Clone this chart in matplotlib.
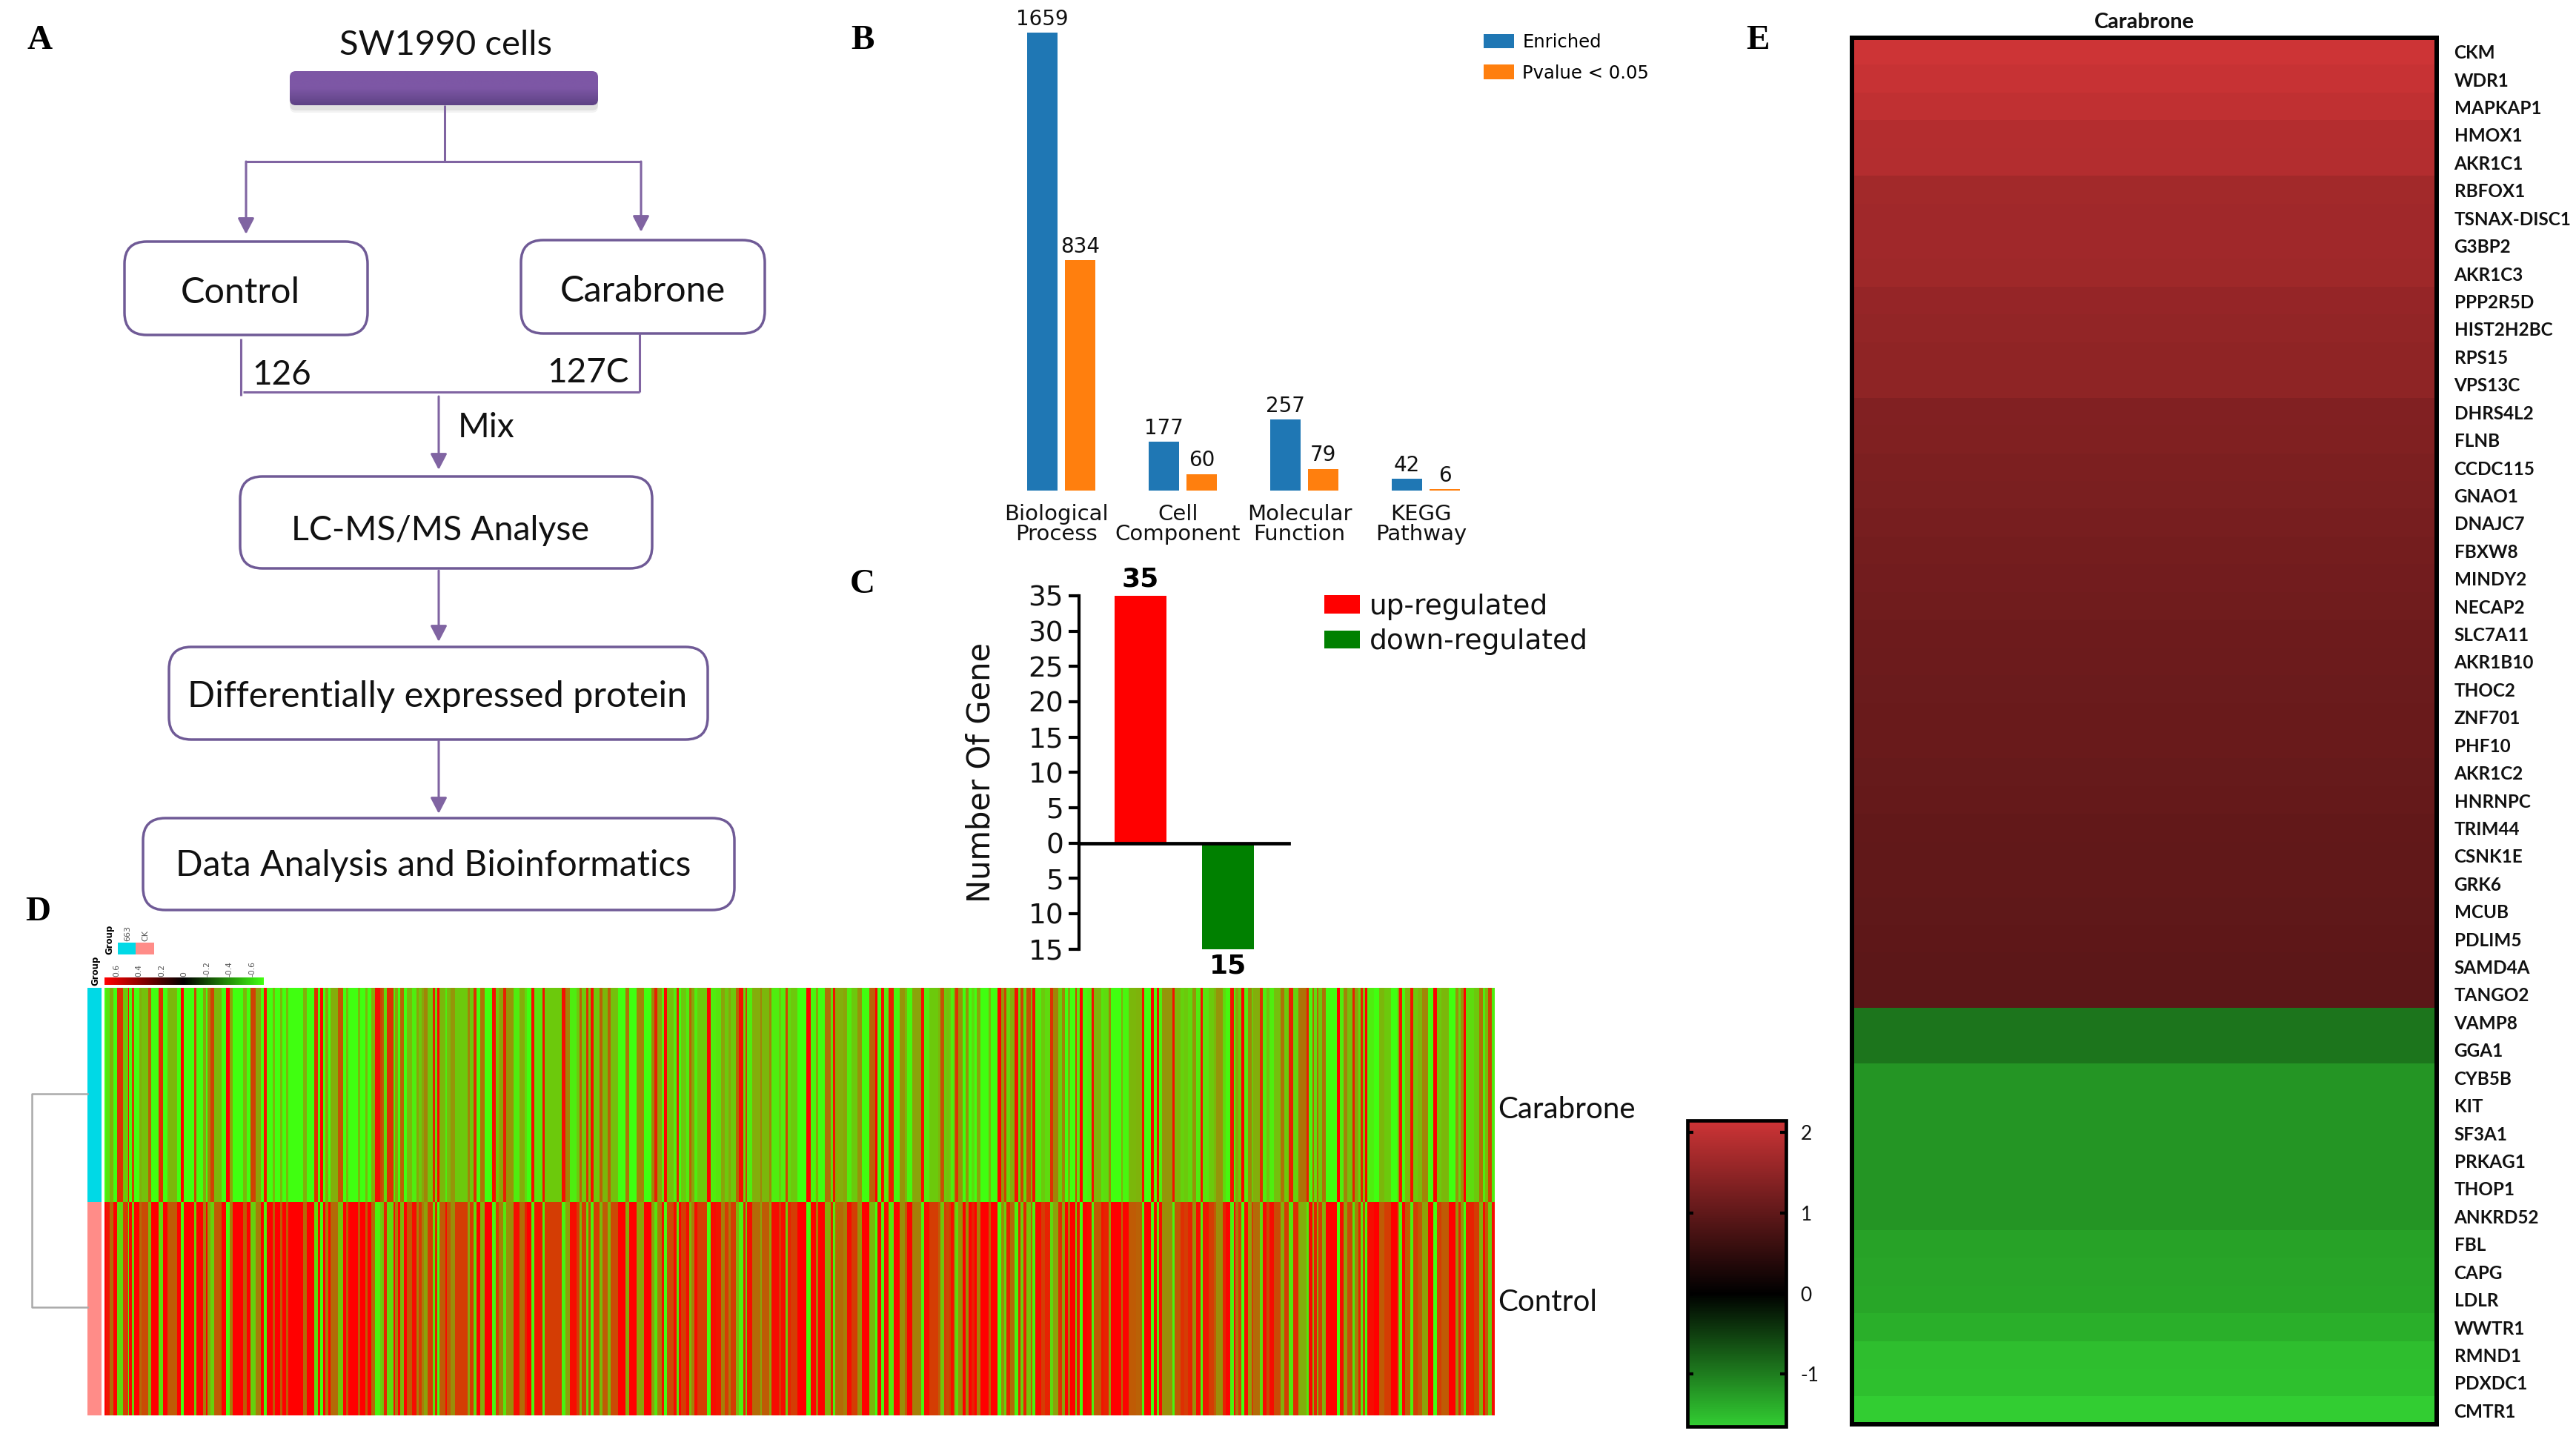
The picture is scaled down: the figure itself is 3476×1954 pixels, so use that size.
import numpy as np
from matplotlib import pyplot as plt
from matplotlib.cm import ScalarMappable
from matplotlib.colors import LinearSegmentedColormap, Normalize
from matplotlib.patches import FancyBboxPatch, Rectangle

plt.rcParams['axes.unicode_minus'] = False

W, H = 3476, 1954

# panel B
go_categories = ['Biological\nProcess', 'Cell\nComponent', 'Molecular\nFunction', 'KEGG\nPathway']
go_enriched = [1659, 177, 257, 42]
go_pvalue = [834, 60, 79, 6]

# panel C
reg_labels = ['up-regulated', 'down-regulated']
reg_values = [35, -15]
reg_ticks = [-15, -10, -5, 0, 5, 10, 15, 20, 25, 30, 35]

stripe_ends_1 = [5, 20, 35, 52, 75, 95, 100, 112, 120, 140, 150, 178, 188, 220, 238, 255, 295, 310, 322, 362, 372,
                 398, 410, 418, 430, 445, 475, 492, 508, 520, 562, 575, 590, 612, 632, 645, 658, 680, 690, 710, 720,
                 735, 745, 805, 820, 850, 865, 873, 885, 893, 905, 915, 945, 965, 978, 988, 1025, 1035, 1055, 1065,
                 1080, 1095, 1115, 1125]
stripe_reds_1 = [0, .15, .45, 0, .85, .3, 1, 0, .8, 0, .45, .35, .7, 0, .85, 0, .4, 0, 1, 0, .8,
                 0, .5, 0, .6, .8, .4, 0, 1, .5, 0, .4, 0, .8, .5, 0, .95, 0, .4, 0, .4,
                 0, .4, 0, .45, 0, .85, 0, 1, 0, .5, 0, .45, .75, 0, .4, 0, .4, 0, .4,
                 0, .45, .95, .8]
stripe_ends_2 = [5, 18, 45, 52, 62, 72, 88, 100, 120, 138, 148, 158, 168, 182, 205, 212, 222, 232, 255, 262, 275,
                 295, 345, 355, 368, 380, 395, 415, 445, 458, 470, 490, 500, 530, 555, 575, 585, 603, 615, 648, 658,
                 725, 740, 758, 785, 798, 808, 825, 835, 843, 855, 880, 892, 912, 925, 955, 985, 998, 1030, 1058,
                 1090, 1100, 1112, 1125]
stripe_reds_2 = [.7, .2, .85, .1, .5, 0, .7, 0, .4, .1, .5, .3, .5, .6, .3, .9, .2, 1, .4, .1, .4,
                 .55, .3, .6, .3, .85, 0, .65, 0, .95, .3, .5, .9, .55, .1, .45, .2, 0, .95, .15, .95,
                 .3, .95, .6, .1, .3, .7, .3, .85, .3, .95, .3, .7, .4, .7, .35, 0, .65, 0, .6,
                 0, .6, .9, .5]
stripe_ends_3 = [5, 15, 28, 55, 65, 75, 85, 105, 118, 125, 137, 150, 190, 205, 225, 245, 262, 275, 285, 305, 318,
                 335, 345, 352, 372, 405, 412, 440, 450, 480, 490, 508, 516, 528, 555, 592, 610, 630, 640, 665, 690,
                 700, 708, 740, 755, 775, 798, 815, 845, 870, 878, 893, 907, 925, 945, 970, 990, 1000, 1020, 1055,
                 1068, 1090, 1125]
stripe_reds_3 = [.5, .1, 1, .35, .1, .9, 0, .3, .1, .7, .5, .1, .3, 1, .1, .15, .5, .3, .5, .3, .7,
                 .95, .2, .8, .1, .45, .6, .4, .6, .1, .3, .1, .8, .2, .3, 0, 1, .05, .5, 0, .65,
                 .2, .95, .45, .5, .1, .3, .55, 0, .7, 1, 0, .95, .1, .9, .05, .55, .4, .05, .5,
                 .95, .1, .3]
stripe_ends_4 = [8, 25, 32, 45, 52, 62, 70, 80, 98, 110, 122, 135, 147, 155, 170, 205, 213, 240, 255, 268, 275,
                 292, 310, 325, 333, 345, 357, 375, 380, 393, 418, 432, 452, 465, 485, 500, 512, 525, 535, 555, 562,
                 572, 585, 603, 620, 630, 660, 670, 690, 700, 740, 748, 770, 800, 825, 835, 860, 873, 885, 893,
                 905, 948, 958, 980, 995, 1012, 1030, 1045, 1062, 1072, 1095, 1115, 1125]
stripe_reds_4 = [.4, .75, .3, .35, .3, .1, .5, .85, .55, 0, .55, 0, .2, 0, .5, 0, .4, 0, 1, .55, .8,
                 .2, .45, .95, .2, .8, .2, .75, .4, .95, .1, .3, .2, .85, .6, .25, .6, 0, .5, 0, .8,
                 .1, 1, .05, .1, .95, .4, .15, .2, .6, 0, .45, .05, .4, .42, .95, 0, 1, .05, .95,
                 .1, .55, .95, .4, .25, .3, .2, .55, .1, .95, .15, .3, .4]
stripe_ends_5 = [28, 38, 58, 72, 78, 90, 102, 115, 128, 145, 150, 178, 190, 205, 215, 235, 262, 275, 295, 312, 332,
                 365, 375, 390, 395, 408, 415, 428, 443, 490, 502, 515, 530, 552, 562, 575, 585, 595, 604, 612, 640,
                 660, 680, 708, 735, 742, 752, 765, 785, 797, 815, 835, 858, 880, 893, 912, 943, 970, 980, 990,
                 1003, 1012, 1045, 1065, 1080, 1088, 1100, 1115, 1128]
stripe_reds_5 = [.55, .2, .05, .95, .1, .5, .3, 1, .1, .6, .3, .45, .85, .1, .35, .1, .35, .65, .3, .9, .25,
                 .65, .9, .05, .7, .2, .7, .3, .65, 0, 1, .1, .6, .35, .9, .5, .2, .9, .3, 1, .1,
                 0, .4, .3, 0, .5, .95, .05, .4, .95, .3, .4, .6, 0, 1, .3, .4, 0, .55, .2,
                 .55, 1, .2, .3, .65, .1, .4, .8, .1]
crop_step = 1125
heat_samples = ['Carabrone', 'Control']
heat_scale_ticks = [0.6, 0.4, 0.2, 0, -0.2, -0.4, -0.6]

# panel E
genes_up = ['CKM', 'WDR1', 'MAPKAP1', 'HMOX1', 'AKR1C1', 'RBFOX1', 'TSNAX-DISC1', 'G3BP2', 'AKR1C3', 'PPP2R5D',
            'HIST2H2BC', 'RPS15', 'VPS13C', 'DHRS4L2', 'FLNB', 'CCDC115', 'GNAO1', 'DNAJC7', 'FBXW8', 'MINDY2',
            'NECAP2', 'SLC7A11', 'AKR1B10', 'THOC2', 'ZNF701', 'PHF10', 'AKR1C2', 'HNRNPC', 'TRIM44', 'CSNK1E',
            'GRK6', 'MCUB', 'PDLIM5', 'SAMD4A', 'TANGO2']
genes_down = ['VAMP8', 'GGA1', 'CYB5B', 'KIT', 'SF3A1', 'PRKAG1', 'THOP1', 'ANKRD52', 'FBL', 'CAPG', 'LDLR', 'WWTR1',
              'RMND1', 'PDXDC1', 'CMTR1']
values_up = [2.15, 2.08, 2.01, 1.89, 1.87, 1.70, 1.68, 1.68, 1.66, 1.57, 1.53, 1.50, 1.49, 1.36, 1.34, 1.30, 1.28,
             1.25, 1.22, 1.20, 1.18, 1.15, 1.13, 1.12, 1.11, 1.10, 1.08, 1.06, 1.03, 1.02, 1.01, 1.00, 0.98, 0.97,
             0.96]
values_down = [-0.95, -0.95, -1.19, -1.19, -1.19, -1.19, -1.20, -1.20, -1.30, -1.32, -1.33, -1.40, -1.52, -1.54,
               -1.65]
expr_ticks = [2, 1, 0, -1]
expr_min, expr_max = -1.65, 2.15


def px_axes(x0, y0, x1, y1):
    return fig.add_axes([x0 / W, 1 - y1 / H, (x1 - x0) / W, (y1 - y0) / H])


def round_box(x0, y0, x1, y1, text, text_x, text_y, size=35):
    r = 30
    canvas.add_patch(FancyBboxPatch((x0 + r, y0 + r), x1 - x0 - 2 * r, y1 - y0 - 2 * r,
                                    boxstyle=f'round,pad={r},rounding_size={r}',
                                    fc='white', ec=BOX_PURPLE, lw=2.5))
    canvas.text(text_x, text_y, text, ha='center', va='center', fontsize=size, family='Lato', color='#111111')


def flow_line(xs, ys):
    canvas.plot(xs, ys, color=LINE_PURPLE, lw=2.2, solid_capstyle='butt')


def flow_arrow(x, y0, y1):
    canvas.annotate('', xy=(x, y1), xytext=(x, y0),
                    arrowprops=dict(arrowstyle='-|>,head_length=0.5,head_width=0.26', color=LINE_PURPLE, lw=2.2,
                                    shrinkA=0, shrinkB=0, mutation_scale=26))


LINE_PURPLE = '#8064a2'
BOX_PURPLE = '#6f5a96'

fig = plt.figure(figsize=(W / 100, H / 100), dpi=100, facecolor='white')

# pixel canvas for the flow chart and the panel letters
canvas = fig.add_axes([0, 0, 1, 1])
canvas.set_xlim(0, W)
canvas.set_ylim(H, 0)
canvas.axis('off')
canvas.set_autoscale_on(False)

for letter, lx, ly in [('A', 54, 55), ('B', 1164, 55), ('C', 1164, 789), ('D', 51, 1231), ('E', 2372, 55)]:
    canvas.text(lx, ly, letter, ha='center', va='center', fontsize=34, fontweight='bold', family='Liberation Serif')

canvas.text(601, 61, 'SW1990 cells', ha='center', va='center', fontsize=34, family='Lato', color='#111111')
for shadow_grow, shadow_alpha in [(6, 0.05), (3, 0.07)]:
    canvas.add_patch(FancyBboxPatch((391 + 8, 104 + 4), 416 - 16, 46 - 16 + shadow_grow,
                                    boxstyle='round,pad=8,rounding_size=8', fc='black', ec='none',
                                    alpha=shadow_alpha))
bar_patch = FancyBboxPatch((391 + 8, 96 + 8), 416 - 16, 46 - 16, boxstyle='round,pad=8,rounding_size=8',
                           fc='none', ec='none')
canvas.add_patch(bar_patch)
bar_ramp = LinearSegmentedColormap.from_list('bar_ramp', ['#7d57a5', '#7d57a5', '#5e4285'])
bar_img = canvas.imshow(np.linspace(0, 1, 50).reshape(-1, 1), extent=(391, 807, 142, 96), cmap=bar_ramp,
                        aspect='auto', zorder=2)
bar_img.set_clip_path(bar_patch)

flow_line([600, 600], [142, 218])
flow_line([332, 865], [218, 218])
flow_arrow(332, 218, 316)
flow_arrow(865, 218, 313)
round_box(168, 326, 496, 452, 'Control', 324, 395)
round_box(703, 324, 1032, 450, 'Carabrone', 867, 393)
flow_line([325, 325], [457, 534])
flow_line([863, 863], [450, 529])
flow_line([328, 863], [529, 529])
canvas.text(380, 506, '126', ha='center', va='center', fontsize=33, family='Lato', color='#111111')
canvas.text(793, 503, '127C', ha='center', va='center', fontsize=33, family='Lato', color='#111111')
canvas.text(656, 577, 'Mix', ha='center', va='center', fontsize=33, family='Lato', color='#111111')
flow_arrow(592, 535, 634)
round_box(324, 643, 880, 767, 'LC-MS/MS Analyse', 594, 716, size=33.5)
flow_arrow(592, 770, 866)
round_box(228, 873, 955, 998, 'Differentially expressed protein', 590, 940, size=35)
flow_arrow(592, 1000, 1098)
round_box(193, 1104, 991, 1228, 'Data Analysis and Bioinformatics', 585, 1168, size=34.7)

# panel B
ax_b = px_axes(1350, 44, 2006, 662)
go_x = np.arange(len(go_categories))
bars_enriched = ax_b.bar(go_x - 0.157, go_enriched, 0.25, color='#1f77b4', label='Enriched')
bars_pvalue = ax_b.bar(go_x + 0.157, go_pvalue, 0.25, color='#ff7f0e', label='Pvalue < 0.05')
ax_b.bar_label(bars_enriched, fontsize=20, padding=3, color='#111111')
ax_b.bar_label(bars_pvalue, fontsize=20, padding=3, color='#111111')
ax_b.set_xlim(-0.5, 3.5)
ax_b.set_ylim(0, 1659)
ax_b.set_xticks(go_x - 0.04, go_categories, fontsize=21, linespacing=0.95, color='#111111')
ax_b.set_yticks([])
ax_b.tick_params(axis='x', length=0, pad=13)
for side in ax_b.spines.values():
    side.set_visible(False)
ax_b.patch.set_alpha(0)
ax_b.legend(handles=[bars_enriched, bars_pvalue], loc='upper left', bbox_to_anchor=(2002 / W, 1 - 45 / H),
            bbox_transform=fig.transFigure, frameon=False, fontsize=17.5, handlelength=1.69, handleheight=0.84,
            labelspacing=0.72, handletextpad=0.46, borderpad=0, borderaxespad=0)

# panel C
ax_c = px_axes(1456, 804, 1739, 1280.5)
reg_x = np.arange(len(reg_values))
bars_reg = ax_c.bar(reg_x, reg_values, 0.593, color=['#ff0000', '#008000'])
ax_c.set_xlim(-0.703, 1.695)
ax_c.set_ylim(-15, 35)
ax_c.set_xticks([])
ax_c.set_yticks(reg_ticks, [str(abs(t)) for t in reg_ticks], fontsize=27, color='#111111')
ax_c.tick_params(axis='y', length=10, width=3, pad=5)
ax_c.spines['top'].set_visible(False)
ax_c.spines['right'].set_visible(False)
ax_c.spines['bottom'].set_position(('data', 0))
ax_c.spines['left'].set_linewidth(3)
ax_c.spines['bottom'].set_linewidth(3.4)
ax_c.spines['bottom'].set_zorder(5)
ax_c.patch.set_alpha(0)
ax_c.bar_label(bars_reg, labels=[str(abs(v)) for v in reg_values], fontsize=26, fontweight='bold', padding=4)
ax_c.set_ylabel('Number Of Gene', fontsize=30, color='#111111')
ax_c.yaxis.set_label_coords((1344 - 1456) / (1739 - 1456), 0.5)
ax_c.legend(bars_reg, reg_labels, loc='upper left', bbox_to_anchor=(1787 / W, 1 - 801 / H),
            bbox_transform=fig.transFigure, frameon=False, fontsize=27, handlelength=1.28, handleheight=0.64,
            labelspacing=0.3, handletextpad=0.35, borderpad=0, borderaxespad=0, labelcolor='#111111')

# panel D
all_ends = [stripe_ends_1, stripe_ends_2, stripe_ends_3, stripe_ends_4, stripe_ends_5]
all_reds = [stripe_reds_1, stripe_reds_2, stripe_reds_3, stripe_reds_4, stripe_reds_5]
stripe_edges = np.concatenate([[0]] + [np.array(e) + i * crop_step for i, e in enumerate(all_ends)])
stripe_red = np.concatenate(all_reds)
# in the picture mixed stripes lean green in the top row and red in the bottom row
stripe_cmap = LinearSegmentedColormap.from_list('stripe', [(0, '#40ff10'), (0.5, '#8aa50a'), (1, '#ff0000')])

ax_d = px_axes(141, 1333, 2017, 1910)
ax_d.pcolormesh(stripe_edges, [0, 1, 2], np.vstack([stripe_red, 1 - stripe_red ** 1.4]), cmap=stripe_cmap, vmin=0,
                vmax=1, antialiased=False)
ax_d.set_ylim(2, 0)
ax_d.set_xlim(stripe_edges[0], stripe_edges[-1])
ax_d.set_xticks([])
ax_d.yaxis.tick_right()
ax_d.set_yticks([0.558, 1.459], heat_samples, fontsize=29, family='Lato', color='#111111')
ax_d.tick_params(axis='y', length=0, pad=3)
for side in ax_d.spines.values():
    side.set_visible(False)

canvas.add_patch(Rectangle((118, 1333), 19, 289, fc='#00d9e6', ec='none'))
canvas.add_patch(Rectangle((118, 1622), 19, 288, fc='#ff8c88', ec='none'))
canvas.plot([118, 43, 43, 118], [1476, 1476, 1764, 1764], color='#aaaaaa', lw=1.8)
canvas.add_patch(Rectangle((159, 1272), 24, 16, fc='#00d9e6', ec='none'))
canvas.add_patch(Rectangle((183, 1272), 25, 16, fc='#ff8c88', ec='none'))
canvas.text(148, 1288, 'Group', rotation=90, ha='center', va='bottom', fontsize=8.5, fontweight='bold')
canvas.text(172, 1270, '663', rotation=90, ha='center', va='bottom', fontsize=8, color='#555555')
canvas.text(196, 1270, 'CK', rotation=90, ha='center', va='bottom', fontsize=8, color='#555555')
canvas.text(129, 1330, 'Group', rotation=90, ha='center', va='bottom', fontsize=8.5, fontweight='bold')

heat_scale_cmap = LinearSegmentedColormap.from_list('rkg', ['#40ff10', '#000000', '#ff0000'])
cax_d = px_axes(141, 1319, 356, 1329)
fig.colorbar(ScalarMappable(Normalize(-0.705, 0.705), heat_scale_cmap), cax=cax_d, orientation='horizontal')
cax_d.invert_xaxis()
cax_d.xaxis.tick_top()
cax_d.set_xticks(heat_scale_ticks, [str(t) for t in heat_scale_ticks], rotation=90, fontsize=7.7, color='#555555')
cax_d.tick_params(axis='x', length=0, pad=1)
cax_d.minorticks_off()
cax_d.set_frame_on(False)

# panel E
expr_cmap = LinearSegmentedColormap.from_list(
    'expr', [(0, '#32cd32'), (-expr_min / (expr_max - expr_min), '#000000'), (1, '#cd3436')])
expr_norm = Normalize(expr_min, expr_max)
expr_genes = genes_up + genes_down
expr_values = np.array(values_up + values_down).reshape(-1, 1)

ax_e = px_axes(2499, 51, 3288, 1922)
ax_e.imshow(expr_values, cmap=expr_cmap, norm=expr_norm, aspect='auto', interpolation='nearest')
ax_e.set_xticks([])
ax_e.yaxis.tick_right()
ax_e.set_yticks(np.arange(len(expr_genes)), expr_genes, fontsize=17.5, fontweight='bold', family='Lato',
                color='#111111')
ax_e.tick_params(axis='y', length=0, pad=17)
for side in ax_e.spines.values():
    side.set_linewidth(4.3)
ax_e.set_title('Carabrone', fontsize=20.8, fontweight='bold', family='Lato', pad=9, color='#111111')

cax_e = px_axes(2277, 1512, 2410, 1925)
cbar_e = fig.colorbar(ScalarMappable(expr_norm, expr_cmap), cax=cax_e)
cbar_e.set_ticks(expr_ticks, labels=[str(t) for t in expr_ticks])
cax_e.tick_params(axis='y', direction='in', left=True, right=True, length=6, width=3, pad=14, labelsize=19)
for lab in cax_e.get_yticklabels():
    lab.set_family('Lato')
    lab.set_color('#111111')
cbar_e.outline.set_linewidth(3.4)

fig.savefig('out.png', dpi=100)
